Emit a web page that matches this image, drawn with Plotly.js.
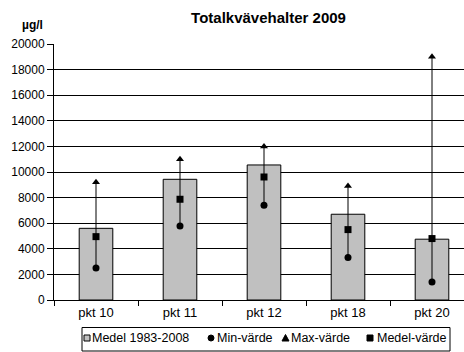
<!DOCTYPE html>
<html><head><meta charset="utf-8">
<script src="https://cdn.plot.ly/plotly-3.0.1.min.js"></script>
<style>body{margin:0;padding:0;background:#fff}#c{width:464px;height:352px}</style>
</head><body><div id="c"></div>
<script>
const categories = ["pkt 10", "pkt 11", "pkt 12", "pkt 18", "pkt 20"];
const medel19832008 = [5600, 9430, 10550, 6700, 4750];
const minVarde = [2500, 5780, 7400, 3330, 1400];
const maxVarde = [9200, 11000, 12000, 8900, 19000];
const medelVarde = [4950, 7870, 9610, 5500, 4800];
const yTicks = [0, 2000, 4000, 6000, 8000, 10000, 12000, 14000, 16000, 18000, 20000];
const seriesNames = ["Medel 1983-2008", "Min-värde", "Max-värde", "Medel-värde"];

const font = "'Liberation Sans', Arial, sans-serif";
const M = {l: 54, r: 0, t: 44, b: 52};
const W = 464, H = 352;
const pw = W - M.l - M.r, ph = H - M.t - M.b;
const px = x => (x - M.l) / pw;
const py = y => (H - M.b - y) / ph;

const traces = [
  {type: "bar", name: seriesNames[0], x: categories, y: medel19832008, width: 0.4,
   marker: {color: "#c0c0c0", line: {color: "#000", width: 1}}},
  {type: "scatter", mode: "markers", name: seriesNames[1], x: categories, y: minVarde,
   marker: {symbol: "circle", size: 7, color: "#000"}},
  {type: "scatter", mode: "markers", name: seriesNames[2], x: categories, y: maxVarde,
   marker: {symbol: "triangle-up", size: 7, color: "#000"},
   error_y: {type: "data", symmetric: false, array: maxVarde.map(() => 0),
             arrayminus: maxVarde.map((v, i) => v - minVarde[i]), width: 0, color: "#000", thickness: 1}},
  {type: "scatter", mode: "markers", name: seriesNames[3], x: categories, y: medelVarde,
   marker: {symbol: "square", size: 7, color: "#000"}}
];

// Legend (drawn as a boxed row, like the original)
const legY = 338;
const shapes = [
  {type: "rect", xref: "paper", yref: "paper", x0: px(82), x1: px(450), y0: py(351), y1: py(327.5),
   line: {color: "#000", width: 1}, fillcolor: "rgba(0,0,0,0)"},
  {type: "rect", xref: "paper", yref: "paper", x0: px(84), x1: px(90), y0: py(legY + 3), y1: py(legY - 3),
   line: {color: "#000", width: 1}, fillcolor: "#c0c0c0"},
  {type: "circle", xref: "paper", yref: "paper", x0: px(208), x1: px(214), y0: py(legY + 3), y1: py(legY - 3),
   line: {color: "#000", width: 1}, fillcolor: "#000"},
  {type: "path", xref: "paper", yref: "paper",
   path: `M ${px(282)} ${py(legY + 3)} L ${px(289)} ${py(legY + 3)} L ${px(285.5)} ${py(legY - 3.5)} Z`,
   line: {color: "#000", width: 1}, fillcolor: "#000"},
  {type: "rect", xref: "paper", yref: "paper", x0: px(367), x1: px(373), y0: py(legY + 3), y1: py(legY - 3),
   line: {color: "#000", width: 1}, fillcolor: "#000"}
];
const legTextX = [91, 216, 290, 376];
const annotations = seriesNames.map((n, i) => ({
  text: n, xref: "paper", yref: "paper", x: px(legTextX[i]), y: py(legY), xanchor: "left", yanchor: "middle",
  showarrow: false, font: {family: font, size: 12.5, color: "#000"}, xshift: -1
}));
annotations.push({text: "<b>µg/l</b>", xref: "paper", yref: "paper", x: px(32), y: py(25),
                  xanchor: "center", yanchor: "middle", showarrow: false,
                  font: {family: font, size: 12, color: "#000"}});

const layout = {
  width: W, height: H,
  margin: Object.assign({autoexpand: false}, M),
  paper_bgcolor: "#fff", plot_bgcolor: "#fff",
  font: {family: font, size: 12, color: "#000"},
  title: {text: "<b>Totalkvävehalter 2009</b>", font: {family: font, size: 15, color: "#000"},
          x: px(268.5), xref: "paper", xanchor: "center", y: 1 - 17.5 / H, yanchor: "middle"},
  showlegend: false,
  xaxis: {type: "category", range: [-0.5, 4.381], showgrid: false, ticks: "outside", tickson: "boundaries",
          ticklen: 5, tickcolor: "#000", showline: true, linecolor: "#000", linewidth: 1,
          tickfont: {family: font, size: 13, color: "#000"}, fixedrange: true},
  yaxis: {range: [0, 20000], tickvals: yTicks, ticktext: yTicks.map(String), showgrid: true,
          gridcolor: "#000", gridwidth: 1, ticks: "outside", ticklen: 6, tickcolor: "#000",
          showline: true, linecolor: "#000", linewidth: 1, zeroline: false,
          tickfont: {family: font, size: 12, color: "#000"}, fixedrange: true},
  shapes: shapes,
  annotations: annotations
};

Plotly.newPlot("c", traces, layout, {displayModeBar: false, staticPlot: true});
</script></body></html>
